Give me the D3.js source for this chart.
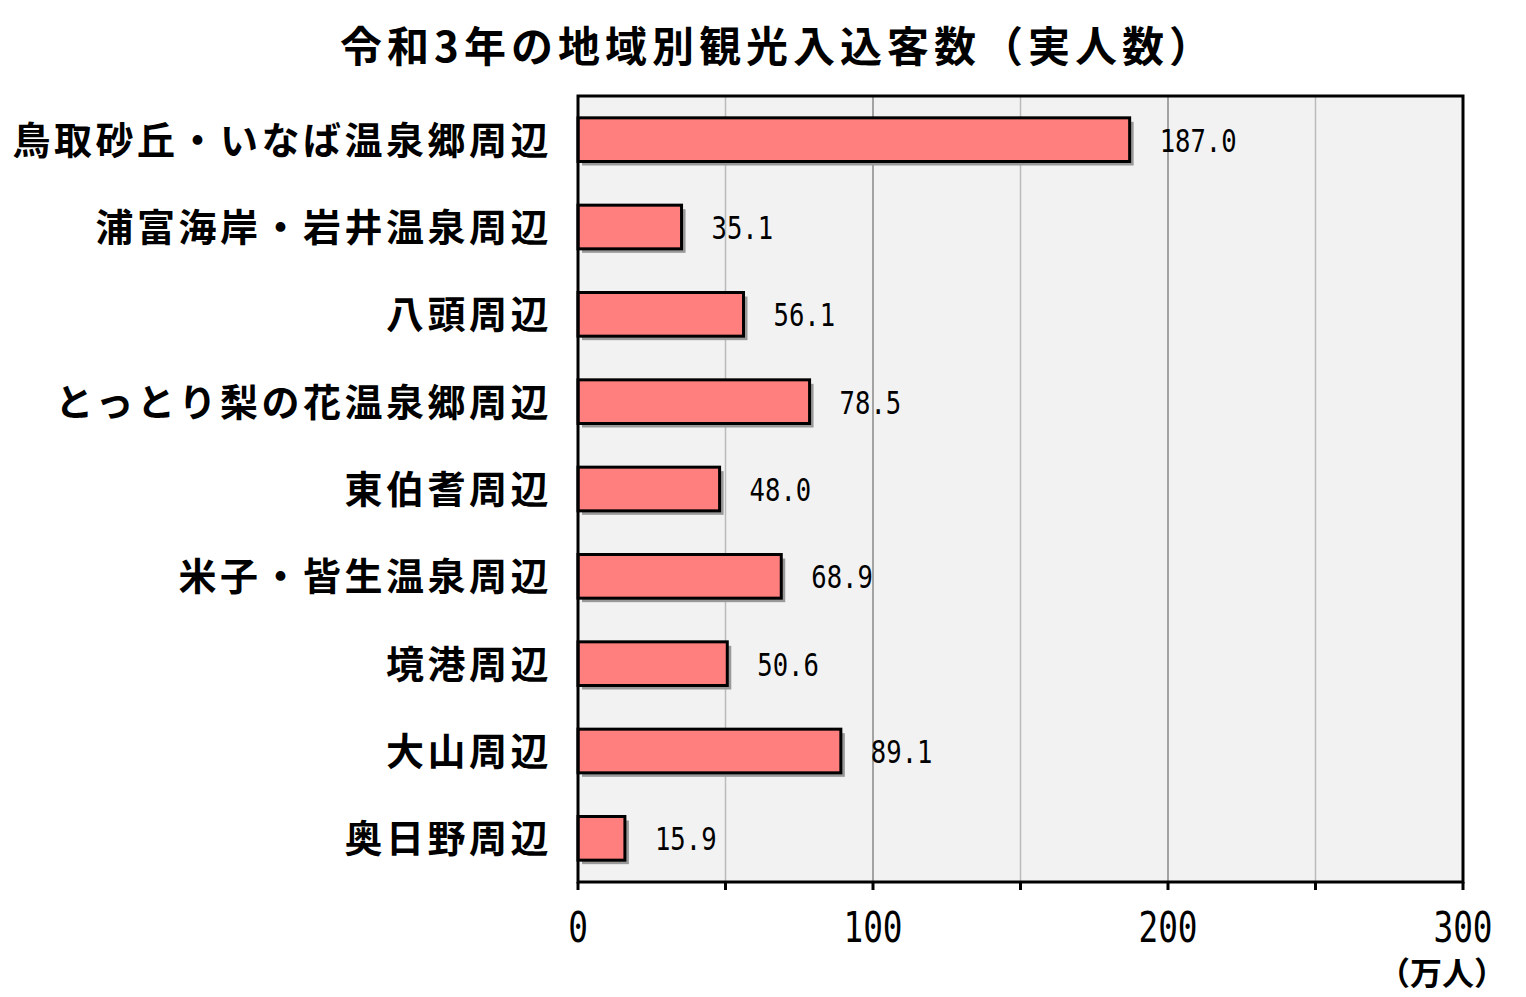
<!DOCTYPE html><html><head><meta charset="utf-8">
<script src="https://cdn.jsdelivr.net/npm/d3@7"></script>
<style>body{margin:0;background:#fff}</style></head><body>
<svg id="c" width="1526" height="997"></svg>
<script>
const categories=["鳥取砂丘・いなば温泉郷周辺","浦富海岸・岩井温泉周辺","八頭周辺","とっとり梨の花温泉郷周辺","東伯耆周辺","米子・皆生温泉周辺","境港周辺","大山周辺","奥日野周辺"];
const values=[187.0,35.1,56.1,78.5,48.0,68.9,50.6,89.1,15.9];
const ticks=[0,100,200,300];
const title="令和3年の地域別観光入込客数（実人数）";
const unit="（万人）";
const svg=d3.select("#c");
const L=578,R=1463,T=96,B=882;
const x=d3.scaleLinear().domain([0,300]).range([L,R]);
const y=d3.scaleBand().domain(categories).range([T,B]).paddingInner(0.5).paddingOuter(0.25);
const jp="'Noto Sans CJK JP',sans-serif";
const num="'DejaVu Sans Mono',monospace";
svg.append("rect").attr("x",L).attr("y",T).attr("width",R-L).attr("height",B-T).attr("fill","#f2f2f2");
svg.selectAll(".g").data(d3.range(50,300,50)).join("line").attr("x1",d=>x(d)).attr("x2",d=>x(d)).attr("y1",T).attr("y2",B).attr("stroke",d=>d%100?"#bbb":"#888").attr("stroke-width",1.5);
svg.selectAll(".sh").data(values).join("rect").attr("x",x(0)+4).attr("y",(d,i)=>y(categories[i])+4).attr("width",d=>x(d)-x(0)).attr("height",y.bandwidth()).attr("fill","#999");
svg.selectAll(".b").data(values).join("rect").attr("x",x(0)).attr("y",(d,i)=>y(categories[i])).attr("width",d=>x(d)-x(0)).attr("height",y.bandwidth()).attr("fill","#ff7f7f").attr("stroke","#000").attr("stroke-width",3);
svg.selectAll(".v").data(values).join("text").attr("transform",(d,i)=>`translate(${x(d)+30},${y(categories[i])+y.bandwidth()/2+12}) scale(0.8,1)`).attr("font-family",num).attr("font-size",32).text(d=>d.toFixed(1));
svg.append("rect").attr("x",L).attr("y",T).attr("width",R-L).attr("height",B-T).attr("fill","none").attr("stroke","#000").attr("stroke-width",3);
svg.selectAll(".mt").data(d3.range(0,301,50)).join("line").attr("x1",d=>x(d)).attr("x2",d=>x(d)).attr("y1",B).attr("y2",B+8).attr("stroke","#000").attr("stroke-width",3);
svg.selectAll(".tl").data(ticks).join("text").attr("transform",d=>`translate(${x(d)},942) scale(0.78,1)`).attr("text-anchor","middle").attr("font-family",num).attr("font-size",42).text(d=>d);
svg.selectAll(".cl").data(categories).join("text").attr("x",552).attr("y",d=>y(d)+y.bandwidth()/2+14).attr("text-anchor","end").attr("font-family",jp).attr("font-weight","bold").attr("font-size",38).attr("letter-spacing",3.5).text(d=>d);
svg.append("text").attr("x",778).attr("y",62).attr("text-anchor","middle").attr("font-family",jp).attr("font-weight","bold").attr("font-size",42).attr("letter-spacing",5).text(title);
svg.append("text").attr("x",1442).attr("y",985).attr("text-anchor","middle").attr("font-family",jp).attr("font-weight","bold").attr("font-size",32).text(unit);
</script></body></html>
